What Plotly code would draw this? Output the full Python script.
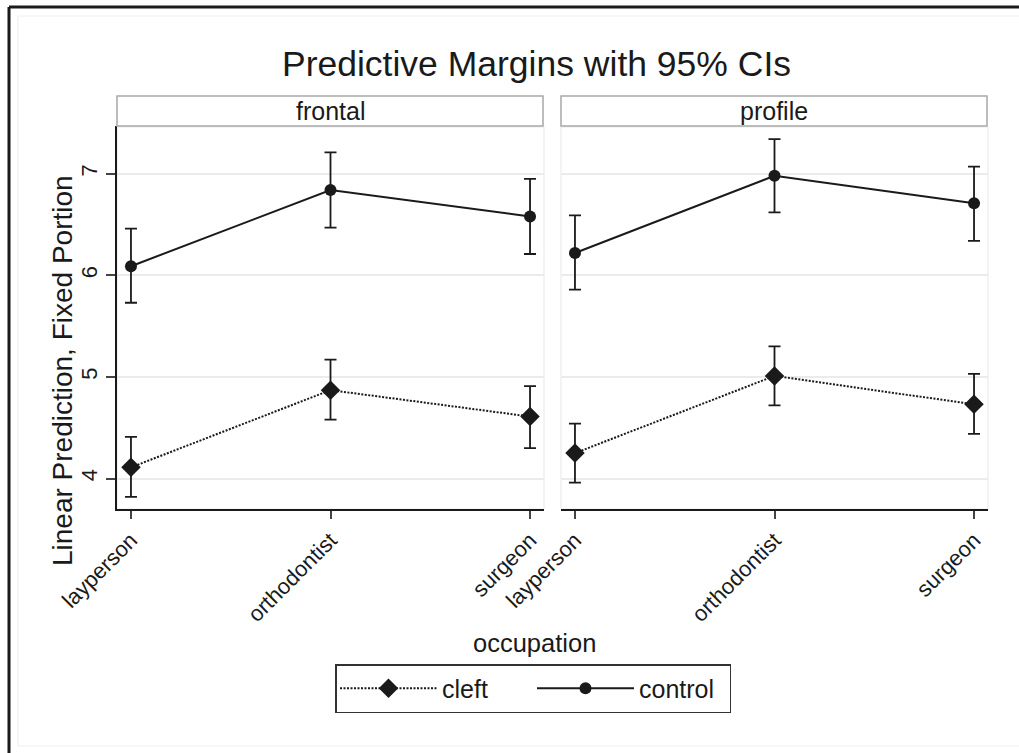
import plotly.graph_objects as go
from plotly.subplots import make_subplots

occupations = ["layperson", "orthodontist", "surgeon"]
panels = ["frontal", "profile"]

# frontal panel
frontal_control = [6.09, 6.84, 6.58]
frontal_control_lo = [5.73, 6.47, 6.21]
frontal_control_hi = [6.46, 7.21, 6.95]
frontal_cleft = [4.11, 4.87, 4.61]
frontal_cleft_lo = [3.82, 4.58, 4.30]
frontal_cleft_hi = [4.41, 5.17, 4.91]

# profile panel
profile_control = [6.22, 6.98, 6.71]
profile_control_lo = [5.86, 6.62, 6.34]
profile_control_hi = [6.59, 7.34, 7.07]
profile_cleft = [4.25, 5.01, 4.73]
profile_cleft_lo = [3.96, 4.72, 4.44]
profile_cleft_hi = [4.54, 5.30, 5.03]

y_ticks = [4, 5, 6, 7]

W, H = 1019, 753
FONT = "Liberation Sans, Arial, sans-serif"
INK = "#1a1a1a"


def px(x):
    return x / W


def py(y):
    return 1 - y / H


fig = make_subplots(rows=1, cols=2, shared_yaxes=True)

data = [
    (1, frontal_cleft, frontal_cleft_lo, frontal_cleft_hi, frontal_control, frontal_control_lo, frontal_control_hi),
    (2, profile_cleft, profile_cleft_lo, profile_cleft_hi, profile_control, profile_control_lo, profile_control_hi),
]

for col, cl, cl_lo, cl_hi, co, co_lo, co_hi in data:
    show = col == 1
    fig.add_trace(go.Scatter(
        x=occupations, y=cl, name="cleft", mode="lines+markers",
        line=dict(color=INK, width=2, dash="2px,1.5px"),
        marker=dict(symbol="diamond", size=15, color=INK),
        error_y=dict(type="data", symmetric=False,
                     array=[h - v for h, v in zip(cl_hi, cl)],
                     arrayminus=[v - l for v, l in zip(cl, cl_lo)],
                     color=INK, thickness=1.8, width=6),
        showlegend=show, legendgroup="cleft"), row=1, col=col)
    fig.add_trace(go.Scatter(
        x=occupations, y=co, name="control", mode="lines+markers",
        line=dict(color=INK, width=2),
        marker=dict(symbol="circle", size=12, color=INK),
        error_y=dict(type="data", symmetric=False,
                     array=[h - v for h, v in zip(co_hi, co)],
                     arrayminus=[v - l for v, l in zip(co, co_lo)],
                     color=INK, thickness=1.8, width=6),
        showlegend=show, legendgroup="control"), row=1, col=col)

xcommon = dict(
    type="category", range=[-0.07, 2.07], showgrid=False, zeroline=False,
    showline=True, linecolor=INK, linewidth=1.5, automargin=False,
    ticks="outside", ticklen=8, tickwidth=1.5, tickcolor="#444",
    tickangle=-45, tickfont=dict(family=FONT, size=22, color=INK),
)
fig.update_xaxes(**xcommon)
fig.update_layout(
    xaxis=dict(domain=[px(117), px(544)]),
    xaxis2=dict(domain=[px(561), px(988)]),
)
fig.update_yaxes(
    range=[3.70, 7.47], tickvals=y_ticks, showgrid=True, gridcolor="#ebebeb",
    gridwidth=1.5, zeroline=False, domain=[py(509), py(126)], automargin=False,
)
fig.update_layout(
    yaxis=dict(showline=True, linecolor=INK, linewidth=1.5, ticks="outside",
               ticklen=9, tickwidth=1.5, tickcolor="#444", tickangle=-90,
               tickfont=dict(family=FONT, size=22, color=INK)),
    yaxis2=dict(showline=False, ticks="", showticklabels=False),
)

shapes = []
# faint panel frames
for x0, x1 in [(117, 544), (561, 988)]:
    shapes.append(dict(type="rect", xref="paper", yref="paper", x0=px(x0), x1=px(x1),
                       y0=py(509), y1=py(127), line=dict(color="#ececec", width=1.2),
                       layer="below"))
    # strip boxes
    shapes.append(dict(type="rect", xref="paper", yref="paper", x0=px(x0), x1=px(x1 - 1),
                       y0=py(126), y1=py(96), line=dict(color="#a8a8a8", width=1.5),
                       fillcolor="white"))
# faint inner graph-region frame
shapes.append(dict(type="rect", xref="paper", yref="paper", x0=px(18), x1=px(1030),
                   y0=py(746), y1=py(16), line=dict(color="#f0f0f0", width=1.2), layer="below"))
# black outer border (top and left)
shapes.append(dict(type="line", xref="paper", yref="paper", x0=px(9), x1=px(1025),
                   y0=py(7), y1=py(7), line=dict(color=INK, width=3)))
shapes.append(dict(type="line", xref="paper", yref="paper", x0=px(9), x1=px(9),
                   y0=py(7), y1=py(760), line=dict(color=INK, width=3)))

annotations = [
    dict(text="Predictive Margins with 95% CIs", x=px(536), y=py(64), xref="paper", yref="paper",
         showarrow=False, xanchor="center", yanchor="middle",
         font=dict(family=FONT, size=35.5, color=INK)),
    dict(text=panels[0], x=px(330), y=py(111), xref="paper", yref="paper",
         showarrow=False, xanchor="center", yanchor="middle",
         font=dict(family=FONT, size=25, color=INK)),
    dict(text=panels[1], x=px(774), y=py(111), xref="paper", yref="paper",
         showarrow=False, xanchor="center", yanchor="middle",
         font=dict(family=FONT, size=25, color=INK)),
    dict(text="Linear Prediction, Fixed Portion", x=px(62), y=py(371), xref="paper", yref="paper",
         showarrow=False, xanchor="center", yanchor="middle", textangle=-90,
         font=dict(family=FONT, size=28, color=INK)),
    dict(text="occupation", x=px(534), y=py(643), xref="paper", yref="paper",
         showarrow=False, xanchor="center", yanchor="middle",
         font=dict(family=FONT, size=25.5, color=INK)),
]

fig.update_layout(
    width=W, height=H, margin=dict(l=0, r=0, t=0, b=0, autoexpand=False),
    paper_bgcolor="white", plot_bgcolor="white",
    shapes=shapes, annotations=annotations,
    showlegend=True,
    legend=dict(orientation="h", x=px(533), xanchor="center", y=py(664), yanchor="top",
                bordercolor="#333", borderwidth=1.5, bgcolor="white",
                font=dict(family=FONT, size=25, color=INK),
                itemwidth=97, entrywidth=85, entrywidthmode="pixels"),
)

fig.write_html("out.html", config={"responsive": False, "displayModeBar": False},
               post_script="document.body.style.margin='0';")
